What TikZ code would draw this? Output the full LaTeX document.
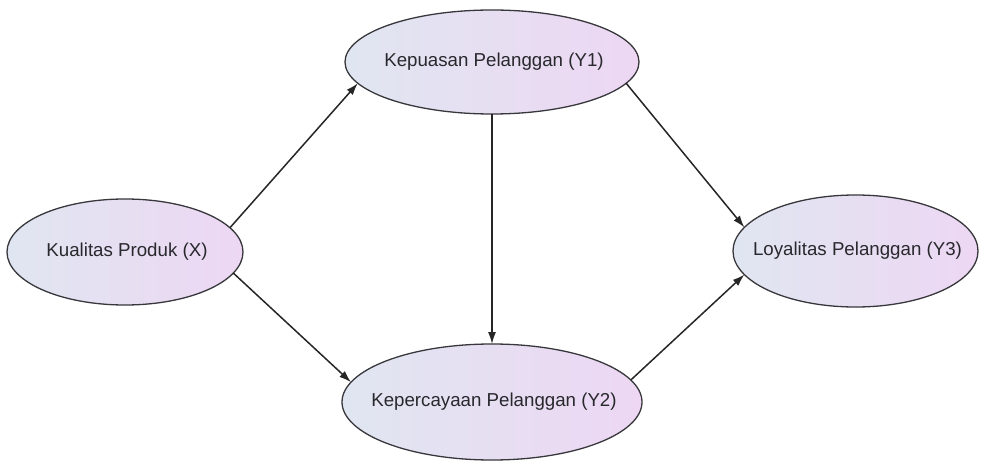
\documentclass[tikz,border=0pt]{standalone}
\usepackage{fontspec}
\setmainfont{Liberation Sans}
\usepackage{tikz}
\usetikzlibrary{arrows.meta}
\usetikzlibrary{shapes.geometric,positioning,calc}
\definecolor{fillleft}{RGB}{224,230,241}
\definecolor{fillright}{RGB}{237,215,243}
\definecolor{edgegrey}{RGB}{55,55,60}
\definecolor{textgrey}{RGB}{40,40,45}
\newcommand{\varname}[1]{\makebox[0pt]{\hspace*{4pt}#1}}

\begin{document}
\begin{tikzpicture}[x=1pt, y=-1pt, >={Latex[length=12pt,width=8pt]},
	latent/.style={ellipse, draw=edgegrey, line width=1.3pt, inner sep=0pt, outer sep=0pt,
		left color=fillleft, right color=fillright, text=textgrey,
		font=\fontsize{18.7}{22}\selectfont},
	path/.style={->, draw=black!85, line width=1.5pt}]
			\useasboundingbox (0,0) rectangle (982,465);
			\node[latent, minimum width=236pt, minimum height=106pt] (kp) at (125,252) {\varname{Kualitas Produk (X)}};
			\node[latent, minimum width=294pt, minimum height=104pt] (kep) at (492,62) {\varname{Kepuasan Pelanggan (Y1)}};
			\node[latent, minimum width=300pt, minimum height=116pt] (kpc) at (492,402) {\varname{Kepercayaan Pelanggan (Y2)}};
			\node[latent, minimum width=245pt, minimum height=112pt] (loy) at (855.5,251) {\varname{Loyalitas Pelanggan (Y3)}};
			\draw[path] (kp.13) -- (kep.189);
			\draw[path] (kp.349) -- (kpc.172);
			\draw[path] (kep.south) -- (kpc.north);
			\draw[path] (kep.351) -- (loy.168);
			\draw[path] (kpc.9) -- (loy.192);
		\end{tikzpicture}
\end{document}
